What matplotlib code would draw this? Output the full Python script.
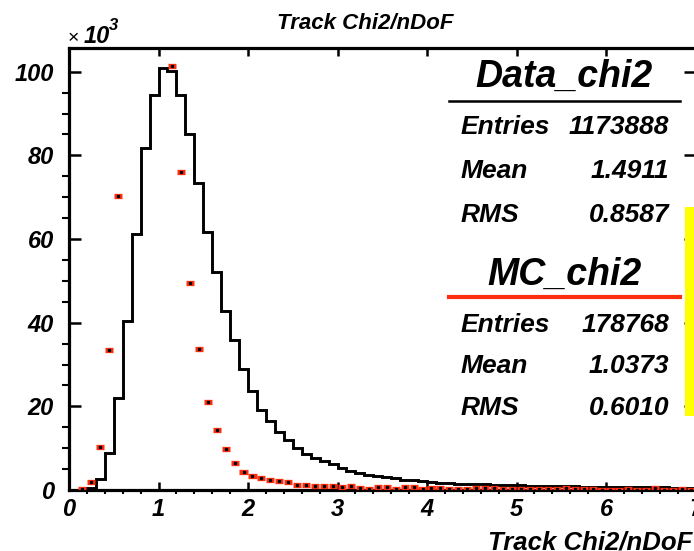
import numpy as np
import matplotlib
matplotlib.use("Agg")
import matplotlib.pyplot as plt
from matplotlib.lines import Line2D
from matplotlib.patches import Rectangle

# bin layout of both histograms (chi2/ndof from 0 to 7, 0.1 wide)
x_lo, x_hi, n_bins = 0.0, 7.0, 70

# data histogram (black steps), entries per bin in units of 10^3
data_chi2 = [0.0, 0.0, 0.5, 2.6, 8.9, 22.0, 40.5, 61.2, 81.7, 94.5,
             101.0, 100.2, 94.5, 85.1, 73.4, 61.6, 52.1, 42.7, 35.9, 28.9,
             23.6, 19.2, 16.5, 13.9, 12.0, 10.0, 8.6, 7.6, 6.9, 6.1,
             5.2, 4.6, 4.1, 3.7, 3.4, 3.1, 2.8, 2.5, 2.4, 2.15,
             1.9, 1.75, 1.7, 1.5, 1.5, 1.35, 1.4, 1.3, 1.25, 1.2,
             1.1, 1.05, 1.0, 1.0, 0.95, 0.9, 0.85, 0.8, 0.8, 0.75,
             0.7, 0.7, 0.65, 0.65, 0.6, 0.6, 0.6, 0.55, 0.55, 0.5]

# MC histogram (red points), scaled, units of 10^3 (bins 0.6-1.1 run off the top)
mc_chi2 = [np.nan, 0.2, 1.8, 10.3, 33.5, 70.2, 112.0, 135.0, 146.0, 140.0,
           122.0, 101.3, 76.1, 49.4, 33.6, 21.1, 14.4, 9.8, 6.5, 4.3,
           3.4, 2.8, 2.3, 2.1, 1.8, 1.3, 1.25, 1.0, 1.0, 0.85,
           0.6, 0.85, 0.5, 0.35, 0.7, 0.7, 0.35, 0.7, 0.7, 0.35,
           0.55, 0.55, 0.35, 0.35, 0.35, 0.55, 0.55, 0.55, 0.3, 0.3,
           0.3, 0.3, 0.3, 0.3, 0.3, 0.55, 0.3, 0.3, 0.3, 0.1,
           0.1, 0.1, 0.3, 0.1, 0.1, 0.5, 0.1, 0.1, 0.3, 0.1]

x_ticks = [0, 1, 2, 3, 4, 5, 6, 7]
y_ticks = [0, 20, 40, 60, 80, 100]

stat_labels = ["Entries", "Mean", "RMS"]
data_stats = ["1173888", "1.4911", "0.8587"]
mc_stats = ["178768", "1.0373", "0.6010"]

red = "#ff2e0e"

plt.rcParams["font.family"] = ["Liberation Sans", "DejaVu Sans"]
plt.rcParams["font.weight"] = "bold"
plt.rcParams["font.style"] = "italic"

W, H = 694, 551


def fx(x):
    return x / W


def fy(y):
    return 1 - y / H


fig = plt.figure(figsize=(W / 100, H / 100), dpi=100)
# axes runs a little past the right edge, like the original canvas
ax = fig.add_axes([fx(69), fy(490), 626.5 / W, 441.7 / H])

edges = np.linspace(x_lo, x_hi, n_bins + 1)
centers = 0.5 * (edges[:-1] + edges[1:])

ax.stairs(data_chi2, edges, color="black", lw=2.1, zorder=2)
ax.errorbar(centers, mc_chi2, xerr=0.045, fmt="s", ms=1.4, mfc="black", mec="black",
            ecolor=red, elinewidth=3.8, capsize=0, zorder=3)

ax.set_xlim(x_lo, x_hi)
ax.set_ylim(0, 105.6)
ax.set_xticks(x_ticks)
ax.set_xticks(np.arange(0, 7.01, 0.2), minor=True)
ax.set_yticks(y_ticks)
ax.set_yticks(np.arange(0, 105, 5), minor=True)
ax.set_xticklabels([str(t) for t in x_ticks], fontsize=17)
ax.set_yticklabels([str(t) for t in y_ticks], fontsize=17)

ax.tick_params(direction="in", top=True, right=True, width=1.8)
ax.tick_params(axis="x", which="major", length=5.8, pad=6)
ax.tick_params(axis="x", which="minor", length=2.9, width=1.5)
ax.tick_params(axis="y", which="major", length=8.6, pad=11)
ax.tick_params(axis="y", which="minor", length=5.0, width=1.5)
for s in ax.spines.values():
    s.set_linewidth(2.3)

# titles
fig.text(fx(277), fy(29), "Track Chi2/nDoF", fontsize=16, ha="left", va="baseline")
fig.text(fx(488), fy(549), "Track Chi2/nDoF", fontsize=18.5, ha="left", va="baseline")

# x10^3 multiplier
fig.text(fx(68), fy(43), "\u00d7", fontsize=14, style="normal", weight="normal",
         ha="left", va="baseline")
fig.text(fx(84), fy(43), "10", fontsize=17, ha="left", va="baseline")
fig.text(fx(109), fy(30), "3", fontsize=12, ha="left", va="baseline")

# stats boxes
fig.text(fx(564), fy(86.7), "Data_chi2", fontsize=27, ha="center", va="baseline")
fig.add_artist(Line2D([fx(449), fx(680)], [fy(101), fy(101)], color="black", lw=1.8))
for i, (lab, val) in enumerate(zip(stat_labels, data_stats)):
    yb = [134.3, 178.3, 221.7][i]
    fig.text(fx(461), fy(yb), lab, fontsize=19, ha="left", va="baseline")
    fig.text(fx(669), fy(yb), val, fontsize=19, ha="right", va="baseline")

fig.text(fx(564), fy(285), "MC_chi2", fontsize=27, ha="center", va="baseline")
fig.add_artist(Line2D([fx(449), fx(680)], [fy(296.7), fy(296.7)], color=red, lw=3.0))
for i, (lab, val) in enumerate(zip(stat_labels, mc_stats)):
    yb = [331.7, 373.3, 415][i]
    fig.text(fx(461), fy(yb), lab, fontsize=19, ha="left", va="baseline")
    fig.text(fx(669), fy(yb), val, fontsize=19, ha="right", va="baseline")

# yellow box poking in from the right
fig.add_artist(Rectangle((fx(684.5), fy(416)), fx(20), 209 / H, color="#ffff00", lw=0))

fig.savefig("out.png", dpi=100)
